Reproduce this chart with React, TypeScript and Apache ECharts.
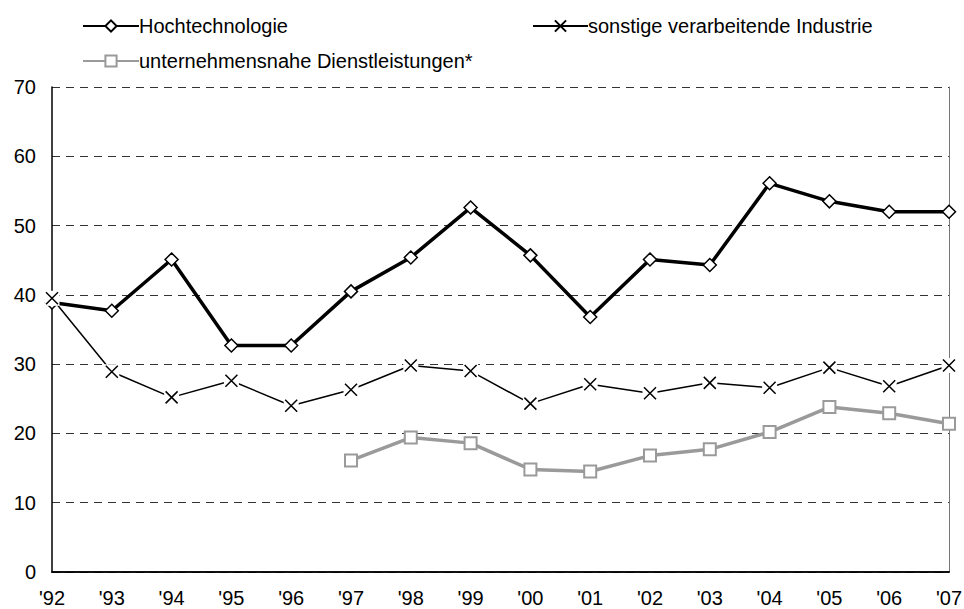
import React, { useEffect, useRef } from "react";
import * as echarts from "echarts";

const years = ["'92", "'93", "'94", "'95", "'96", "'97", "'98", "'99", "'00", "'01", "'02", "'03", "'04", "'05", "'06", "'07"];
const hochtechnologie = [38.9, 37.7, 45.1, 32.7, 32.7, 40.5, 45.4, 52.6, 45.7, 36.8, 45.1, 44.3, 56.1, 53.5, 52.0, 52.0];
const sonstige = [39.5, 28.9, 25.2, 27.6, 24.0, 26.3, 29.8, 29.0, 24.3, 27.1, 25.8, 27.3, 26.6, 29.5, 26.8, 29.8];
const dienstleistungen = [null, null, null, null, null, 16.1, 19.4, 18.6, 14.8, 14.5, 16.8, 17.7, 20.2, 23.8, 22.9, 21.4];

const NAME_H = "Hochtechnologie";
const NAME_S = "sonstige verarbeitende Industrie";
const NAME_D = "unternehmensnahe Dienstleistungen*";
const FONT = "Liberation Sans, Arial, sans-serif";
const CROSS = "path://M0,0L10,10M10,0L0,10";
const GRAY = "#9a9a9a";

export default function App() {
  const ref = useRef<HTMLDivElement>(null);
  useEffect(() => {
    if (!ref.current) return;
    const chart = echarts.init(ref.current, null, { renderer: "svg" });
    const legendText = { fontFamily: FONT, fontSize: 20, color: "#000", padding: [0, 0, 0, -5] };
    chart.setOption({
      animation: false,
      backgroundColor: "#fff",
      textStyle: { fontFamily: FONT },
      grid: { left: 52, right: 15, top: 87, bottom: 37, show: false, containLabel: false, outerBoundsMode: "none" },
      legend: [
        { data: [NAME_H], left: 77, top: 11, itemWidth: 56, itemHeight: 14, textStyle: legendText, selectedMode: false },
        { data: [NAME_S], left: 527, top: 11, itemWidth: 55, itemHeight: 14, textStyle: legendText, selectedMode: false },
        { data: [NAME_D], left: 77, top: 46, itemWidth: 56, itemHeight: 14, textStyle: legendText, selectedMode: false },
      ],
      xAxis: [
        {
          type: "category",
          data: years,
          boundaryGap: false,
          axisLine: { show: true, lineStyle: { color: "#000", width: 1.5 } },
          axisTick: { show: false },
          axisLabel: { fontFamily: FONT, fontSize: 20, color: "#000", margin: 16 },
          splitLine: { show: false },
        },
        {
          type: "category",
          data: years,
          position: "top",
          boundaryGap: false,
          axisLine: { show: true, lineStyle: { color: "#000", width: 1.5 } },
          axisTick: { show: false },
          axisLabel: { show: false },
          splitLine: { show: false },
        },
      ],
      yAxis: [
        {
          type: "value",
          min: 0,
          max: 70,
          interval: 10,
          axisLine: { show: true, lineStyle: { color: "#000", width: 1.5 } },
          axisTick: { show: false },
          axisLabel: { fontFamily: FONT, fontSize: 20, color: "#000", margin: 16 },
          splitLine: {
            show: true,
            lineStyle: { color: "#333", width: 1, type: [8, 6] },
          },
        },
        {
          type: "value",
          min: 0,
          max: 70,
          interval: 10,
          position: "right",
          axisLine: { show: true, lineStyle: { color: "#777", width: 1 } },
          axisTick: { show: false },
          axisLabel: { show: false },
          splitLine: { show: false },
        },
      ],
      series: [
        {
          name: NAME_D,
          type: "line",
          data: dienstleistungen,
          symbol: "rect",
          symbolSize: 12,
          showAllSymbol: true,
          lineStyle: { color: GRAY, width: 3.5 },
          itemStyle: { color: "#fff", borderColor: GRAY, borderWidth: 2 },
          z: 2,
        },
        {
          name: NAME_S,
          type: "line",
          data: sonstige,
          symbol: CROSS,
          symbolSize: 12,
          showAllSymbol: true,
          lineStyle: { color: "#000", width: 1.5 },
          itemStyle: { color: "#000", borderColor: "#000", borderWidth: 1.5 },
          z: 2,
        },
        {
          name: NAME_H,
          type: "line",
          data: hochtechnologie,
          symbol: "diamond",
          symbolSize: 13,
          showAllSymbol: true,
          lineStyle: { color: "#000", width: 3.5 },
          itemStyle: { color: "#fff", borderColor: "#000", borderWidth: 1.5 },
          z: 3,
        },
        {
          name: "_bg",
          type: "line",
          data: sonstige,
          symbol: "rect",
          symbolSize: 15,
          showAllSymbol: true,
          lineStyle: { width: 0, opacity: 0 },
          itemStyle: { color: "#fff", borderWidth: 0 },
          silent: true,
          z: 4,
        },
        {
          name: "_x",
          type: "line",
          data: sonstige,
          symbol: CROSS,
          symbolSize: 12,
          showAllSymbol: true,
          lineStyle: { width: 0, opacity: 0 },
          itemStyle: { color: "#000", borderColor: "#000", borderWidth: 1.5 },
          silent: true,
          z: 5,
        },
      ],
    });
    return () => chart.dispose();
  }, []);
  return (
    <div
      ref={ref}
      style={{ position: "absolute", left: 0, top: 0, width: 964, height: 609, background: "#fff" }}
    />
  );
}
